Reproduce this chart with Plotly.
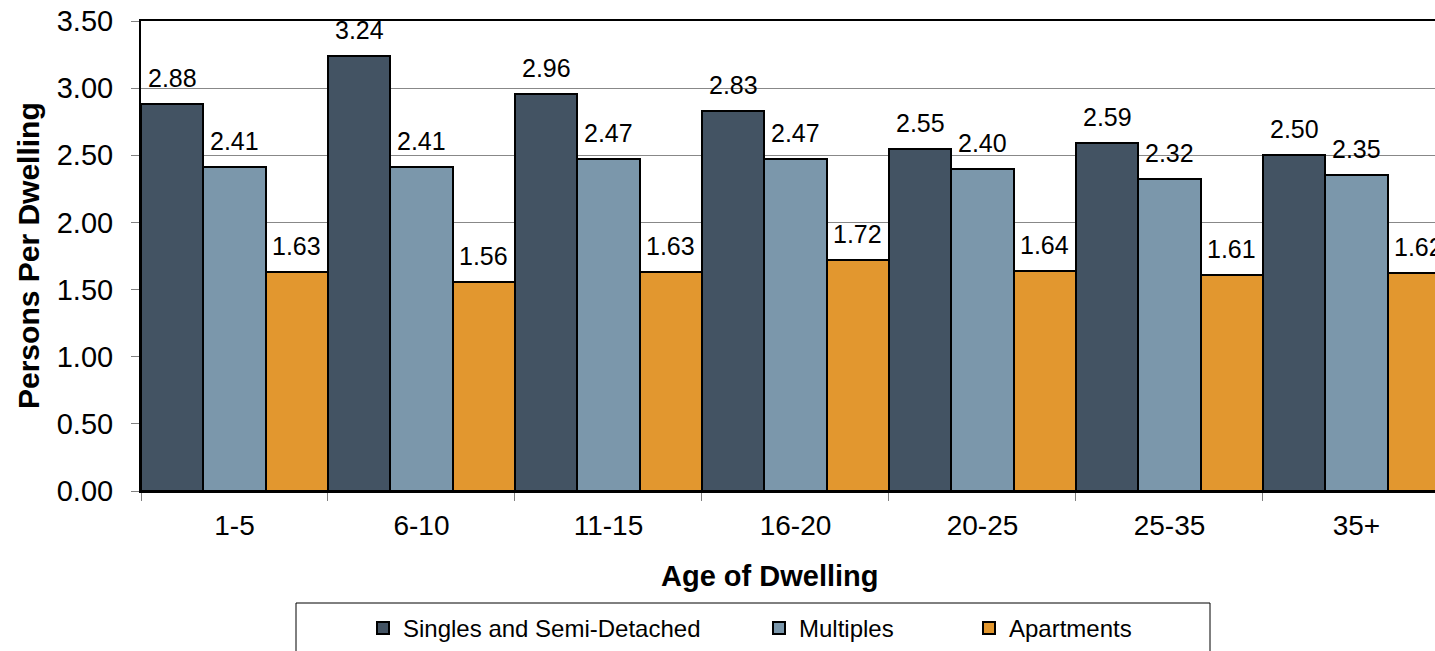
import plotly.graph_objects as go

# Average household size by age of dwelling and structure type
categories = ["1-5", "6-10", "11-15", "16-20", "20-25", "25-35", "35+"]
singles = [2.88, 3.24, 2.96, 2.83, 2.55, 2.59, 2.50]
multiples = [2.41, 2.41, 2.47, 2.47, 2.40, 2.32, 2.35]
apartments = [1.63, 1.56, 1.63, 1.72, 1.64, 1.61, 1.62]

series_names = ["Singles and Semi-Detached", "Multiples", "Apartments"]
series_values = [singles, multiples, apartments]
series_colors = ["#435363", "#7b97ab", "#e2972f"]

FONT = "Liberation Sans, Arial, sans-serif"
W, H = 1435, 651
ML, MT, MB = 141, 21, 160
plot_w = W - ML
plot_h = H - MT - MB


def px_x(p):
    return (p - ML) / plot_w


def px_y(p):
    return (H - MB - p) / plot_h


fig = go.Figure()
legend_ids = ["legend", "legend2", "legend3"]
for name, vals, color, lg in zip(series_names, series_values, series_colors, legend_ids):
    fig.add_trace(go.Bar(
        name=name, x=categories, y=vals,
        marker=dict(color=color, line=dict(color="#000000", width=2)),
        legend=lg, showlegend=True,
    ))

# value labels above each bar
n = len(series_values)
annotations = []
for k, vals in enumerate(series_values):
    offset = (k - (n - 1) / 2) / n
    for i, v in enumerate(vals):
        annotations.append(dict(
            x=i + offset, y=v, xref="x", yref="y",
            text=f"{v:.2f}", showarrow=False,
            yanchor="bottom", yshift=10,
            font=dict(family=FONT, size=25, color="#000000"),
        ))

annotations.append(dict(
    text="<b>Age of Dwelling</b>", xref="paper", yref="paper",
    x=px_x(770), y=px_y(576), showarrow=False,
    xanchor="center", yanchor="middle",
    font=dict(family=FONT, size=29, color="#000000"),
))
annotations.append(dict(
    text="<b>Persons Per Dwelling</b>", xref="paper", yref="paper",
    x=px_x(28), y=px_y(256), showarrow=False, textangle=-90,
    xanchor="center", yanchor="middle",
    font=dict(family=FONT, size=30, color="#000000"),
))

legend_style = dict(
    orientation="h", yanchor="middle", xanchor="left",
    y=px_y(629), bgcolor="rgba(0,0,0,0)", borderwidth=0,
    font=dict(family=FONT, size=24, color="#000000"),
)

fig.update_layout(
    width=W, height=H,
    margin=dict(l=ML, r=0, t=MT, b=MB, pad=0),
    paper_bgcolor="#ffffff", plot_bgcolor="#ffffff",
    barmode="group", bargap=0, bargroupgap=0,
    showlegend=True,
    font=dict(family=FONT, size=28, color="#000000"),
    annotations=annotations,
    legend=dict(legend_style, x=px_x(363)),
    legend2=dict(legend_style, x=px_x(759)),
    legend3=dict(legend_style, x=px_x(969)),
    shapes=[dict(
        type="rect", xref="paper", yref="paper",
        x0=px_x(296), x1=px_x(1210), y0=px_y(603), y1=px_y(665),
        line=dict(color="#000000", width=1), fillcolor="rgba(0,0,0,0)",
    )],
    xaxis=dict(
        type="category", range=[-0.5, 6.42],
        showline=True, linecolor="#000000", linewidth=2, mirror=True,
        ticks="outside", tickson="boundaries", ticklen=8, tickcolor="#808080",
        tickwidth=1, showgrid=False, ticklabelstandoff=8,
        tickfont=dict(family=FONT, size=28, color="#000000"),
    ),
    yaxis=dict(
        range=[0, 3.5], dtick=0.5, tickformat=".2f",
        showline=True, linecolor="#000000", linewidth=2,
        ticks="outside", ticklen=8, tickcolor="#808080", tickwidth=1,
        showgrid=True, gridcolor="#888888", gridwidth=1, zeroline=False,
        ticklabelstandoff=12,
        tickfont=dict(family=FONT, size=29, color="#000000"),
    ),
)

fig.write_html("out.html")
